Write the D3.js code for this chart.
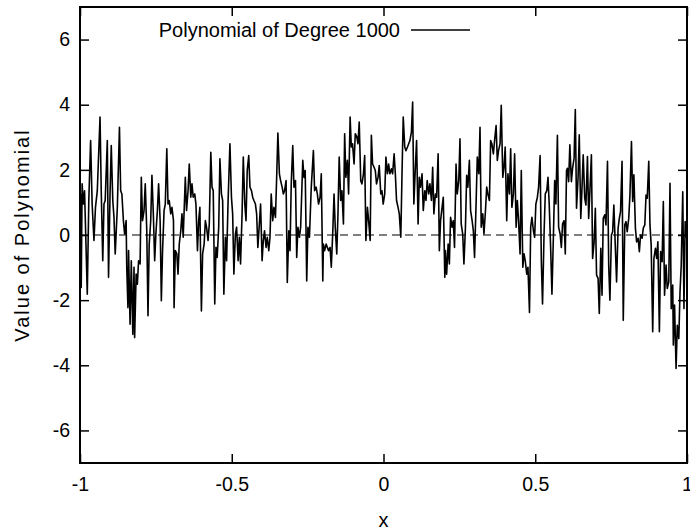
<!DOCTYPE html>
<html>
<head>
<meta charset="utf-8">
<script src="https://cdn.jsdelivr.net/npm/d3@7"></script>
<style>
  body { margin: 0; background: #fff; }
  text { font-family: "Liberation Sans", Arial, sans-serif; fill: #000; }
</style>
</head>
<body>
<script>
// values, [x, value]
var seg1 = [[-0.998,1.26],[-0.996,-1.61],[-0.993,1.57],[-0.989,0.95],[-0.985,1.36],[-0.976,-1.82],[-0.971,1.06],[-0.965,2.90],[-0.960,0.95],[-0.954,-0.17],[-0.949,0.85],[-0.943,1.36],[-0.934,3.62],[-0.930,1.36],[-0.925,-0.79],[-0.921,0.95],[-0.917,1.06],[-0.910,2.90],[-0.906,-1.30],[-0.901,1.26],[-0.897,2.75],[-0.892,1.06],[-0.888,0.54],[-0.884,-0.58],[-0.877,0.85],[-0.870,3.31],[-0.866,1.36],[-0.862,1.26],[-0.857,0.44],[-0.853,0.03],[-0.848,0.44],[-0.846,-0.99],[-0.842,-2.23],[-0.840,-0.48],[-0.835,-2.74],[-0.831,-0.79],[-0.826,-3.05],[-0.822,-0.99],[-0.820,-3.15],[-0.815,-1.20],[-0.811,-1.51],[-0.807,-0.79],[-0.802,-0.89],[-0.798,1.77],[-0.794,0.44],[-0.789,0.75],[-0.785,1.57],[-0.780,0.13],[-0.776,-2.48],[-0.772,-0.28],[-0.767,0.44],[-0.763,1.83],[-0.758,0.54],[-0.754,-0.79],[-0.750,0.03],[-0.745,0.75],[-0.741,1.57],[-0.736,0.44],[-0.732,-2.02],[-0.728,-0.48],[-0.723,0.75],[-0.719,0.95],[-0.714,2.65],[-0.710,0.95],[-0.706,1.06],[-0.701,0.65],[-0.697,0.85],[-0.692,0.44],[-0.690,-2.23],[-0.686,-0.48],[-0.681,-0.58],[-0.677,-1.20],[-0.673,-0.28],[-0.668,0.13],[-0.664,0.65],[-0.660,-0.07],[-0.653,1.77],[-0.649,0.75],[-0.644,1.36],[-0.640,2.18],[-0.635,1.16],[-0.631,1.57],[-0.627,1.16],[-0.622,1.26],[-0.618,0.95],[-0.613,-0.48],[-0.609,0.44]]
var seg2 = [[-0.605,0.85],[-0.600,-2.33],[-0.596,-0.58],[-0.591,-0.28],[-0.587,0.44],[-0.583,0.24],[-0.578,-0.17],[-0.574,0.34],[-0.569,2.54],[-0.565,1.47],[-0.561,1.36],[-0.556,-2.12],[-0.552,-0.38],[-0.548,-0.69],[-0.543,0.24],[-0.539,2.34],[-0.534,1.26],[-0.530,1.06],[-0.526,-1.82],[-0.521,-0.07],[-0.517,-0.79],[-0.512,1.06],[-0.506,2.80],[-0.501,1.16],[-0.497,0.65],[-0.493,-1.20],[-0.488,0.03],[-0.484,0.24],[-0.479,-0.79],[-0.475,-0.07],[-0.471,-0.89],[-0.466,0.65],[-0.462,2.39],[-0.457,0.95],[-0.453,0.44],[-0.449,1.98],[-0.444,2.44],[-0.440,1.47],[-0.435,1.36],[-0.431,1.16],[-0.427,1.06],[-0.422,0.95],[-0.418,0.65],[-0.414,-0.38],[-0.409,0.34],[-0.405,0.95],[-0.400,-0.79],[-0.396,-0.17],[-0.392,0.13],[-0.387,-0.38],[-0.383,-0.07],[-0.378,-0.48],[-0.374,-0.07],[-0.370,1.26],[-0.365,0.44],[-0.361,0.85],[-0.356,0.54],[-0.352,1.77],[-0.348,3.13],[-0.343,1.88],[-0.339,1.67],[-0.334,1.47],[-0.330,1.26],[-0.326,1.36],[-0.321,1.67],[-0.317,-1.46],[-0.312,0.13],[-0.308,-0.48],[-0.304,1.57],[-0.299,2.75],[-0.295,1.47],[-0.290,1.67],[-0.286,-0.69],[-0.282,0.24],[-0.277,-0.07],[-0.273,0.24],[-0.266,2.29],[-0.262,1.77],[-0.258,1.98],[-0.253,-1.41],[-0.249,0.24],[-0.244,-0.07],[-0.238,1.47],[-0.231,2.59],[-0.227,1.36],[-0.222,1.47],[-0.218,1.26],[-0.214,0.95],[-0.209,1.16],[-0.205,1.88],[-0.200,-1.41]]
var seg3 = [[-0.198,-0.28],[-0.194,-0.48],[-0.189,-0.28],[-0.185,-0.38],[-0.181,-0.48],[-0.176,-0.38],[-0.172,-0.99],[-0.167,0.13],[-0.163,1.26],[-0.159,0.24],[-0.154,-0.58],[-0.150,0.65],[-0.146,2.39],[-0.141,1.06],[-0.137,1.36],[-0.132,0.34],[-0.128,3.11],[-0.124,1.77],[-0.119,2.29],[-0.115,1.26],[-0.110,3.62],[-0.106,2.70],[-0.102,2.80],[-0.097,2.18],[-0.093,3.11],[-0.088,3.01],[-0.084,2.80],[-0.080,3.47],[-0.075,1.67],[-0.071,1.57],[-0.066,1.88],[-0.062,2.44],[-0.058,-0.17],[-0.053,0.85],[-0.049,0.44],[-0.044,-0.17],[-0.040,3.06],[-0.036,2.18],[-0.031,2.08],[-0.027,1.98],[-0.023,1.57],[-0.018,1.77],[-0.014,2.13],[-0.009,1.26],[-0.005,1.36],[-0.001,0.95],[0.004,1.26],[0.008,2.39],[0.013,1.88],[0.017,2.18],[0.021,1.88],[0.026,2.03],[0.030,1.88],[0.035,2.49],[0.039,1.88],[0.043,1.06],[0.048,0.85],[0.052,0.65],[0.057,-0.07],[0.061,1.88],[0.065,3.62],[0.070,2.70],[0.074,2.59],[0.079,2.70],[0.083,2.80],[0.087,2.90],[0.092,3.16],[0.096,4.08],[0.100,0.95],[0.105,2.08],[0.109,2.90],[0.114,0.34],[0.118,1.77],[0.122,1.47],[0.127,1.88],[0.131,0.75],[0.136,1.36],[0.140,1.06],[0.144,1.67],[0.149,1.26],[0.153,1.57],[0.158,1.06],[0.162,2.08],[0.166,0.65],[0.171,1.26],[0.175,1.16],[0.180,2.49],[0.184,-0.48],[0.188,0.44],[0.193,0.85],[0.197,1.16],[0.202,-1.30]]
var seg4 = [[0.204,-0.48],[0.208,-1.20],[0.213,-0.28],[0.217,-0.89],[0.221,0.54],[0.226,0.24],[0.230,0.44],[0.234,-0.38],[0.239,2.18],[0.243,1.26],[0.248,1.67],[0.252,2.95],[0.256,0.34],[0.261,0.03],[0.265,-0.89],[0.270,0.24],[0.274,1.83],[0.278,1.47],[0.283,2.29],[0.287,0.75],[0.292,0.44],[0.296,0.13],[0.300,-0.69],[0.305,0.95],[0.309,2.39],[0.314,1.88],[0.318,3.31],[0.322,0.24],[0.327,0.65],[0.331,0.03],[0.336,0.75],[0.340,1.47],[0.344,1.26],[0.349,1.06],[0.353,2.90],[0.357,2.80],[0.362,2.49],[0.366,2.90],[0.371,3.36],[0.375,2.29],[0.379,2.59],[0.384,2.80],[0.388,3.98],[0.393,1.77],[0.397,2.08],[0.401,2.70],[0.406,0.44],[0.410,1.88],[0.415,1.26],[0.419,2.65],[0.423,0.85],[0.428,1.26],[0.432,2.49],[0.437,0.24],[0.441,1.06],[0.445,0.44],[0.450,-0.58],[0.454,1.98],[0.459,-0.99],[0.463,-0.58],[0.467,-0.79],[0.472,-1.20],[0.476,-0.99],[0.481,-2.38],[0.485,0.24],[0.489,0.54],[0.494,0.13],[0.498,-0.07],[0.502,0.95],[0.507,1.16],[0.511,1.47],[0.516,2.44],[0.520,-0.79],[0.524,-2.12],[0.529,0.03],[0.533,1.26],[0.538,1.36],[0.542,1.77],[0.546,0.95],[0.551,-0.48],[0.555,-1.82],[0.560,0.03],[0.564,1.67],[0.568,0.95],[0.573,3.06],[0.577,0.24],[0.582,0.03],[0.586,-0.38],[0.590,0.34],[0.595,0.44],[0.599,-0.58],[0.603,1.98]]
var seg5 = [[0.606,2.05],[0.610,1.64],[0.614,2.77],[0.619,1.64],[0.623,2.05],[0.628,2.36],[0.632,3.85],[0.636,0.82],[0.641,1.74],[0.645,3.08],[0.650,0.51],[0.654,1.44],[0.658,2.46],[0.663,1.13],[0.667,0.92],[0.672,2.41],[0.676,0.51],[0.680,1.33],[0.685,2.46],[0.689,-0.72],[0.694,-0.21],[0.698,0.82],[0.702,-1.23],[0.707,-1.33],[0.711,-2.41],[0.716,-0.41],[0.720,-1.85],[0.724,0.51],[0.729,0.62],[0.733,0.31],[0.738,2.26],[0.742,-0.92],[0.746,-2.00],[0.751,0.00],[0.755,0.10],[0.759,0.92],[0.764,-0.41],[0.768,-1.44],[0.773,0.21],[0.777,0.51],[0.781,0.72],[0.786,2.26],[0.790,-2.62],[0.795,0.31],[0.799,0.41],[0.803,0.10],[0.808,0.51],[0.812,1.23],[0.817,2.87],[0.821,1.03],[0.825,1.85],[0.830,0.21],[0.834,-0.21],[0.839,-0.10],[0.843,-0.51],[0.847,0.00],[0.852,-0.10],[0.856,0.21],[0.861,0.31],[0.865,1.23],[0.869,1.13],[0.874,2.26],[0.878,0.31],[0.882,-0.31],[0.887,-2.97],[0.891,-0.72],[0.896,-0.41],[0.900,-0.72],[0.904,-0.21],[0.909,-2.97],[0.913,-0.51],[0.918,-0.82],[0.922,1.03],[0.926,-1.85],[0.931,-0.92],[0.935,-1.64],[0.940,-1.44],[0.944,1.59],[0.948,-2.26],[0.953,-1.54],[0.955,-3.38],[0.959,-2.15],[0.964,-4.10],[0.968,-2.77],[0.973,-3.18],[0.977,-1.74],[0.981,-0.92],[0.986,1.33],[0.990,-2.26],[0.994,0.41],[0.999,-0.10]]

var xTicks = [-1, -0.5, 0, 0.5, 1]
var yTicks = [-6, -4, -2, 0, 2, 4, 6]
var legendLabel = "Polynomial of Degree 1000"

var data = seg1.concat(seg2, seg3, seg4, seg5)

var width = 690, height = 532
var margin = {left: 80, right: 3, top: 7, bottom: 69}

var svg = d3.select("body").append("svg")
    .attr("width", width)
    .attr("height", height)

var x = d3.scaleLinear().domain([-1, 1]).range([margin.left, width - margin.right])
var y = d3.scaleLinear().domain([-7, 7]).range([height - margin.bottom, margin.top])

// plain hyphen for negatives, like the original
var fmt = d => String(d)

// zero line
svg.append("line")
    .attr("x1", x(-1)).attr("x2", x(1))
    .attr("y1", y(0)).attr("y2", y(0))
    .attr("stroke", "#000")
    .attr("stroke-width", 1.2)
    .attr("stroke-dasharray", "8,5")

// the polynomial
var line = d3.line().x(d => x(d[0])).y(d => y(d[1]))
svg.append("path")
    .datum(data)
    .attr("d", line)
    .attr("fill", "none")
    .attr("stroke", "#000")
    .attr("stroke-width", 1.6)
    .attr("stroke-linejoin", "round")

// axes, ticks pointing inward
function styleAxis(g) {
    g.select(".domain").remove()
    g.selectAll(".tick line").attr("stroke", "#000").attr("stroke-width", 1.5)
    g.selectAll(".tick text").style("font-size", "19.5px").style("font-family", "'Liberation Sans', Arial, sans-serif")
}

svg.append("g")
    .attr("transform", "translate(0," + y(-7) + ")")
    .call(d3.axisBottom(x).tickValues(xTicks).tickSize(-9).tickPadding(14).tickFormat(fmt))
    .call(styleAxis)

svg.append("g")
    .attr("transform", "translate(0," + y(7) + ")")
    .call(d3.axisTop(x).tickValues(xTicks).tickSize(-9).tickFormat(""))
    .call(styleAxis)

svg.append("g")
    .attr("transform", "translate(" + x(-1) + ",0)")
    .call(d3.axisLeft(y).tickValues(yTicks).tickSize(-9).tickPadding(10).tickFormat(fmt))
    .call(styleAxis)

svg.append("g")
    .attr("transform", "translate(" + x(1) + ",0)")
    .call(d3.axisRight(y).tickValues(yTicks).tickSize(-9).tickFormat(""))
    .call(styleAxis)

// frame
svg.append("rect")
    .attr("x", x(-1)).attr("y", y(7))
    .attr("width", x(1) - x(-1)).attr("height", y(-7) - y(7))
    .attr("fill", "none")
    .attr("stroke", "#000")
    .attr("stroke-width", 2)

// legend
svg.append("text")
    .attr("x", 400).attr("y", 37)
    .attr("text-anchor", "end")
    .style("font-size", "20px")
    .text(legendLabel)
svg.append("line")
    .attr("x1", 411).attr("x2", 470)
    .attr("y1", 30).attr("y2", 30)
    .attr("stroke", "#000")
    .attr("stroke-width", 1.4)

// axis titles
svg.append("text")
    .attr("x", x(0)).attr("y", 527)
    .attr("text-anchor", "middle")
    .style("font-size", "20px")
    .text("x")

svg.append("text")
    .attr("transform", "translate(29," + y(0) + ") rotate(-90)")
    .attr("text-anchor", "middle")
    .style("font-size", "20px")
    .style("letter-spacing", "2px")
    .text("Value of Polynomial")
</script>
</body>
</html>
